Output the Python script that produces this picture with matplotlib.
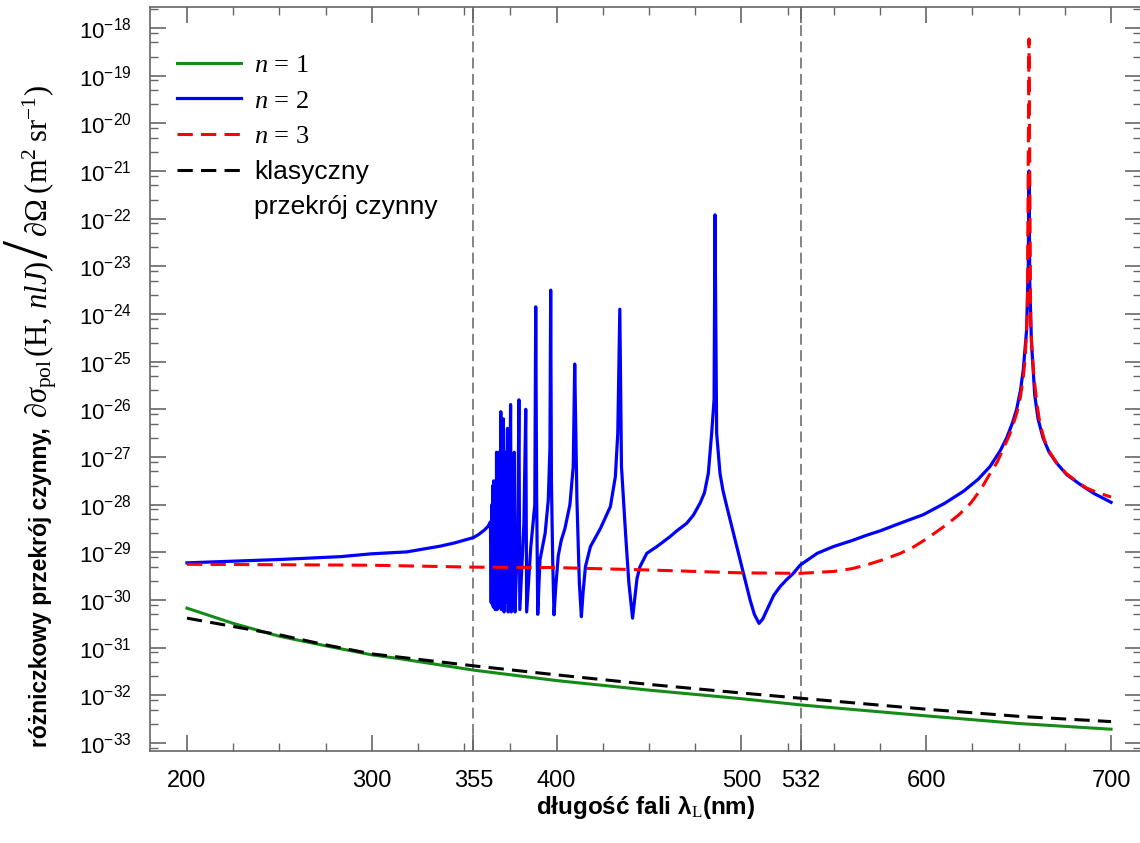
import matplotlib
matplotlib.use("Agg")
import matplotlib.pyplot as plt
import matplotlib.ticker as mticker
import numpy as np

plt.rcParams['font.family'] = ['Liberation Sans', 'DejaVu Sans']
plt.rcParams['mathtext.fontset'] = 'custom'
plt.rcParams['mathtext.rm'] = 'Liberation Serif'
plt.rcParams['mathtext.it'] = 'Liberation Serif:italic'
plt.rcParams['mathtext.bf'] = 'Liberation Serif:bold'
plt.rcParams['mathtext.sf'] = 'Liberation Sans'

# wavelengths (nm) and log10 of cross section (m^2 sr^-1)
wl_n1 = [200, 225, 250, 275, 300, 315, 355, 400, 450, 500, 532, 600, 650, 700]
log_n1 = [-30.17, -30.49, -30.76, -30.96, -31.15, -31.23, -31.47, -31.69,
          -31.89, -32.07, -32.20, -32.43, -32.59, -32.71]

wl_cl = [200, 250, 275, 300, 355, 400, 450, 500, 532, 600, 650, 700]
log_cl = [-30.38, -30.73, -30.94, -31.13, -31.38, -31.57, -31.77, -31.95,
          -32.06, -32.29, -32.44, -32.55]

wl_n3 = [200, 250, 300, 355, 400, 450, 500, 532, 550, 560, 568, 577, 586, 593,
         600, 611, 618, 624, 629.5, 634.5, 638.5, 641.7, 644.7, 647.2, 649.2,
         650.8, 652.3, 653.5, 654.7, 655.6, 656.5, 657.3, 658.3, 659.8, 661.5,
         664, 666.9, 671, 675.9, 681, 686.7, 693, 700]
log_n3 = [-29.25, -29.26, -29.27, -29.31, -29.32, -29.37, -29.43, -29.44, -29.40,
          -29.34, -29.26, -29.15, -29.02, -28.89, -28.72, -28.42, -28.20, -27.97,
          -27.68, -27.35, -27.10, -26.82, -26.57, -26.30, -26.05, -25.77, -25.40,
          -24.95, -23.97, -18.23, -24.19, -24.80, -25.32, -25.85, -26.30, -26.65,
          -26.90, -27.15, -27.35, -27.50, -27.65, -27.75, -27.84]

wl_n2 = [200, 250, 283, 300, 319, 337, 345, 355, 358, 361, 363, 364.2,
         364.6, 365.0, 365.3, 365.5, 365.8, 366.0, 366.3, 366.5, 366.8, 367.0,
         367.3, 367.5, 367.8, 368.0, 368.4, 368.7, 369.0, 369.2, 369.5, 369.8,
         370.1, 370.4, 370.8, 371.2, 371.6, 372.2, 372.7, 373.4, 373.8, 374.5,
         375.1, 375.5, 376.4, 377.1, 377.5, 379.0, 379.6, 380.1, 382.3, 383.3,
         383.8, 386.0, 388.2, 388.7, 389.2, 389.8, 391.0, 393.8, 395.5, 396.4,
         396.8, 397.2, 397.9, 398.6, 399.5, 400.9, 402.5, 404.5, 407.2, 409.0,
         409.8, 411.0, 412.3, 413.4, 414.3, 415.6, 418.3, 423.7, 429.1, 431.8,
         433.1, 434.2, 435.1, 437.3, 439.1, 441.1, 442.5, 443.5, 445.1, 448.8,
         454.2, 461.4, 465.0, 470.4, 474.0, 477.6, 480.0, 482.1, 483.9, 485.2,
         485.7, 486.6, 488.4, 490.0, 492.1, 495.7, 498.0, 500.2, 502.5, 504.7,
         507.0, 509.5, 511.5, 514.6, 517.5, 520.9, 524.5, 528.1, 531.7, 541.0,
         549.7, 560.0, 567.8, 575.0, 585.8, 598.4, 610.0, 620.1, 628.0, 634.5,
         640.0, 643.5, 646.5, 648.9, 651.0, 652.5, 654.3, 655.2, 655.6, 656.0,
         656.9, 658.7, 660.5, 663.2, 666.5, 670.4, 676.0, 683.1, 691.0, 700]
log_n2 = [-29.22, -29.15, -29.09, -29.03, -28.99, -28.87, -28.80, -28.69, -28.62,
          -28.53, -28.45, -28.36,
          -30.05, -28.0, -30.1, -27.6, -30.15, -27.5, -29.95, -28.1, -30.2, -27.6,
          -30.0, -26.9, -30.2, -27.4, -30.05, -26.9, -30.15, -27.2, -29.9, -26.05,
          -30.2, -26.6, -30.0, -26.2, -30.25, -26.9, -30.05, -26.4, -30.25, -28.6,
          -25.9, -30.25, -28.7, -26.9, -30.25, -28.5, -25.8, -30.2, -28.4, -26.0,
          -30.25, -28.9, -28.0, -23.85, -27.8, -30.3, -29.16, -28.60, -27.90, -26.80,
          -23.50, -27.50, -29.20, -30.31, -29.75, -29.07, -28.75, -28.50, -28.00, -27.20,
          -25.05, -27.90, -29.64, -30.35, -29.85, -29.30, -28.88, -28.50, -28.04, -27.41,
          -26.50, -23.90, -27.20, -28.60, -29.64, -30.38, -29.90, -29.55, -29.30, -29.02,
          -28.88, -28.67, -28.55, -28.39, -28.22, -27.97, -27.75, -27.34, -26.50, -25.80,
          -21.92, -26.50, -27.34, -27.70, -28.04, -28.60, -28.95, -29.30, -29.65, -30.00,
          -30.30, -30.49, -30.40, -30.14, -29.90, -29.72, -29.57, -29.44, -29.27, -29.02,
          -28.88, -28.75, -28.64, -28.55, -28.39, -28.21, -27.97, -27.72, -27.47, -27.20,
          -26.87, -26.60, -26.30, -26.00, -25.60, -25.17, -24.34, -23.0, -21.0, -23.3,
          -24.57, -25.70, -26.20, -26.60, -26.90, -27.12, -27.37, -27.57, -27.77, -27.95]

laser_lines = [355, 532]
xticks_major = [200, 300, 355, 400, 500, 532, 600, 700]
y_decades = list(range(-33, -17))
legend_labels = ['$n$ = 1', '$n$ = 2', '$n$ = 3', 'klasyczny']
legend_extra = 'przekrój czynny'

# y label in pieces: text, font size, gap before it (px), font family
ylabel_parts = [
    ('różniczkowy przekrój czynny,', 16.5, 0, 'Liberation Sans'),
    (r'$\partial\sigma_{\mathrm{pol}}\,(\mathrm{H},\,nlJ)$', 22, 9, 'Liberation Sans'),
    ('/', 47, 2, 'Liberation Serif'),
    (r'$\partial\Omega\;(\mathrm{m}^{2}\;\mathrm{sr}^{-1})$', 22, 3, 'Liberation Sans'),
]

fig = plt.figure(figsize=(11.4, 8.43), dpi=100)
ax = fig.add_axes([150/1140, 1 - 751/843, 991/1140, 744/843])

for x in laser_lines:
    ax.axvline(x, color='#7a7a7a', lw=1.3, dashes=(6, 3), zorder=1)

ln1, = ax.plot(wl_n1, 10.0**np.array(log_n1), color='#168a16', lw=2.2, zorder=3)
lncl, = ax.plot(wl_cl, 10.0**np.array(log_cl), color='black', lw=2.2,
                dashes=(5, 2.7), zorder=4)
ln2, = ax.plot(wl_n2, 10.0**np.array(log_n2), color='#0000ff', lw=2.3, zorder=5)
ln3, = ax.plot(wl_n3, 10.0**np.array(log_n3), color='#ff0000', lw=2.2,
               dashes=(5, 2.7), zorder=6)

ax.set_yscale('log')
ax.set_xlim(180, 716.2)
ylo, yhi = 10**-33.167, 10**-17.56

ax.set_xticks(xticks_major)
ax.set_xticklabels([str(v) for v in xticks_major])
ax.xaxis.set_minor_locator(mticker.MultipleLocator(25))

# only ticks inside the visible range
ax.yaxis.set_major_locator(mticker.FixedLocator([10.0**k for k in y_decades]))
ax.yaxis.set_major_formatter(mticker.LogFormatterSciNotation())
minor = [s * 10.0**k for k in range(-34, -17) for s in (2.5, 5, 8)]
minor = [m for m in minor if ylo <= m <= yhi]
ax.yaxis.set_minor_locator(mticker.FixedLocator(minor))
ax.yaxis.set_minor_formatter(mticker.NullFormatter())
ax.set_ylim(ylo, yhi)

ax.tick_params(which='both', direction='in', top=True, right=True, color='#666666')
ax.tick_params(which='major', length=11.5, width=1.2)
ax.tick_params(which='minor', length=5.5, width=1.0)
ax.tick_params(axis='x', labelsize=17, pad=14)
ax.tick_params(axis='y', labelsize=16, pad=13)
for s in ax.spines.values():
    s.set_color('#666666')
    s.set_linewidth(1.2)

ax.set_xlabel('długość fali λ$_{\\mathrm{L}}$(nm)', fontsize=17.5, fontweight='bold')
ax.xaxis.set_label_coords(0.5, -0.058)

leg = ax.legend([ln1, ln2, ln3, lncl], legend_labels, loc='upper left',
                bbox_to_anchor=(0.0273, 0.937), frameon=False, fontsize=19,
                handlelength=2.42, handletextpad=0.5, labelspacing=0.45,
                borderpad=0, borderaxespad=0)
for t in leg.get_texts()[:3]:
    t.set_family('Liberation Serif')

fig.canvas.draw()
renderer = fig.canvas.get_renderer()
bb = leg.get_texts()[3].get_window_extent(renderer)
fig.text(bb.x0 / 1140, (bb.y0 - 35) / 843, legend_extra, fontsize=19,
         ha='left', va='bottom')

# vertical y label, laid out piece after piece from the bottom up
ypos = 843 - 747
for txt, size, gap, fam in ylabel_parts:
    ypos += gap
    weight = 'bold' if fam == 'Liberation Sans' and not txt.startswith('$') else 'normal'
    t = fig.text(47 / 1140, ypos / 843, txt, rotation=90, rotation_mode='anchor',
                 ha='left', va='baseline', fontsize=size, family=fam,
                 fontweight=weight)
    ypos = t.get_window_extent(renderer).y1

fig.savefig('out.png', dpi=100)
